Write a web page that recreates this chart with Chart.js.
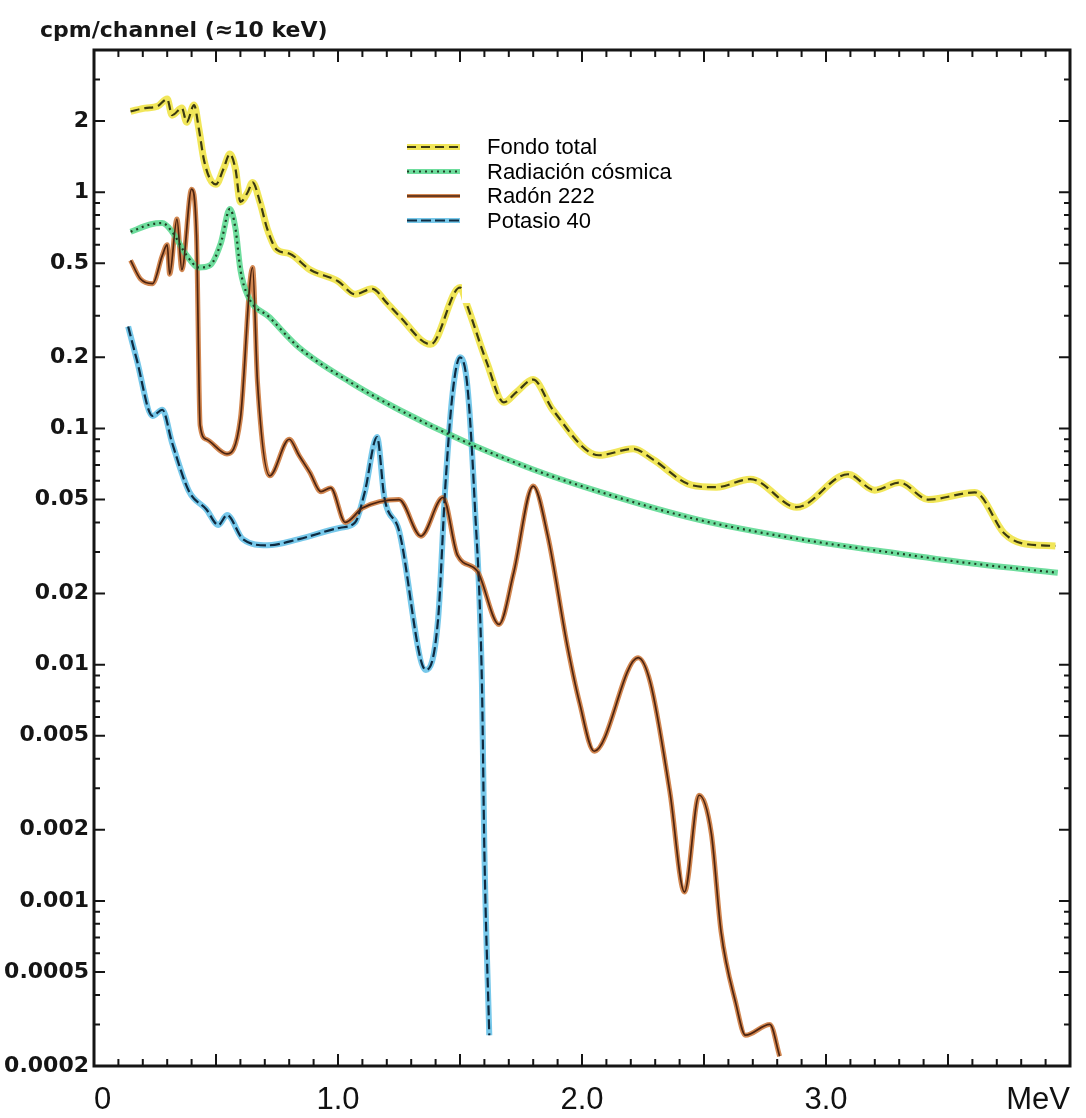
<!DOCTYPE html>
<html>
<head>
<meta charset="utf-8">
<script src="https://cdn.jsdelivr.net/npm/chart.js@4.4.1/dist/chart.umd.min.js"></script>
<style>
  html,body{margin:0;padding:0;background:#fff}
  #wrap{width:1086px;height:1118px;position:relative}
</style>
</head>
<body>
<div id="wrap"><canvas id="chart" width="1086" height="1118"></canvas></div>
<script>
const yTitle = 'cpm/channel (≈10 keV)';
const xTickValues = [0, 1, 2, 3, 4];
const xTickLabels = ['0', '1.0', '2.0', '3.0', 'MeV'];
const yTickValues = [2, 1, 0.5, 0.2, 0.1, 0.05, 0.02, 0.01, 0.005, 0.002, 0.001, 0.0005, 0.0002];
const yTickLabels = ['2', '1', '0.5', '0.2', '0.1', '0.05', '0.02', '0.01', '0.005', '0.002', '0.001', '0.0005', '0.0002'];
const seriesNames = ['Fondo total', 'Radiación cósmica', 'Radón 222', 'Potasio 40'];

// energies in MeV, values in cpm/channel
const fondoE = [0.15, 0.21, 0.26, 0.30, 0.32, 0.36, 0.38, 0.41, 0.43, 0.45, 0.475, 0.50, 0.53, 0.557, 0.58, 0.60, 0.63, 0.65, 0.68, 0.71, 0.75, 0.80, 0.885, 1.00, 1.07, 1.14, 1.20, 1.25, 1.38, 1.50, 1.53, 1.61, 1.68, 1.73, 1.80, 1.88, 2.07, 2.21, 2.29, 2.45, 2.55, 2.69, 2.88, 3.09, 3.20, 3.30, 3.42, 3.61, 3.73, 3.80, 3.94];
const fondoV = [2.2, 2.27, 2.31, 2.48, 2.12, 2.27, 1.98, 2.34, 1.85, 1.38, 1.14, 1.08, 1.25, 1.45, 1.25, 0.91, 1.0, 1.1, 0.91, 0.70, 0.57, 0.55, 0.47, 0.42, 0.37, 0.39, 0.34, 0.30, 0.227, 0.395, 0.33, 0.19, 0.129, 0.142, 0.161, 0.12, 0.077, 0.082, 0.074, 0.0575, 0.0564, 0.061, 0.0464, 0.064, 0.0548, 0.059, 0.05, 0.0536, 0.036, 0.0327, 0.0318];

const cosmicaE = [0.15, 0.23, 0.28, 0.32, 0.38, 0.43, 0.475, 0.52, 0.557, 0.58, 0.60, 0.63, 0.72, 0.84, 1.05, 1.25, 1.53, 1.80, 2.07, 2.48, 2.89, 3.30, 3.60, 3.95];
const cosmicaV = [0.68, 0.73, 0.74, 0.68, 0.54, 0.48, 0.49, 0.61, 0.85, 0.70, 0.47, 0.365, 0.295, 0.22, 0.157, 0.12, 0.087, 0.067, 0.054, 0.041, 0.034, 0.0295, 0.0268, 0.0245];

const radonE = [0.15, 0.19, 0.24, 0.28, 0.30, 0.31, 0.34, 0.36, 0.40, 0.42, 0.435, 0.46, 0.545, 0.60, 0.65, 0.67, 0.72, 0.80, 0.84, 0.885, 0.93, 0.97, 1.03, 1.10, 1.25, 1.34, 1.43, 1.49, 1.57, 1.66, 1.72, 1.80, 1.86, 1.94, 1.99, 2.05, 2.23, 2.28, 2.36, 2.42, 2.48, 2.53, 2.57, 2.63, 2.67, 2.77, 2.81];
const radonV = [0.515, 0.43, 0.41, 0.54, 0.60, 0.45, 0.77, 0.47, 1.03, 0.66, 0.103, 0.09, 0.078, 0.11, 0.48, 0.157, 0.063, 0.09, 0.077, 0.065, 0.054, 0.056, 0.040, 0.046, 0.05, 0.035, 0.051, 0.029, 0.025, 0.0148, 0.0245, 0.057, 0.035, 0.012, 0.0069, 0.0043, 0.0107, 0.0084, 0.0029, 0.00109, 0.0028, 0.00193, 0.00074, 0.00037, 0.00027, 0.0003, 0.00022];

const potasioE = [0.14, 0.175, 0.24, 0.28, 0.32, 0.39, 0.46, 0.51, 0.545, 0.61, 0.71, 0.84, 1.01, 1.07, 1.11, 1.16, 1.19, 1.25, 1.36, 1.41, 1.44, 1.47, 1.50, 1.53, 1.56, 1.59, 1.60, 1.62];
const potasioV = [0.27, 0.196, 0.113, 0.12, 0.087, 0.054, 0.0455, 0.039, 0.043, 0.034, 0.032, 0.034, 0.038, 0.040, 0.054, 0.092, 0.051, 0.037, 0.0095, 0.0155, 0.057, 0.142, 0.20, 0.152, 0.049, 0.0082, 0.0016, 0.00027];

const styles = [
  {glow: 'rgba(238,226,60,0.85)', glowW: 7, core: '#3b3a12', coreW: 2.2, dash: [9, 5]},
  {glow: 'rgba(85,215,140,0.85)', glowW: 6, core: '#1f3f25', coreW: 2.2, dash: [2, 4]},
  {glow: 'rgba(205,122,62,0.9)', glowW: 5, core: '#4d2410', coreW: 1.7, dash: []},
  {glow: 'rgba(95,190,230,0.85)', glowW: 6, core: '#0f2a40', coreW: 2.2, dash: [10, 4]}
];

function pts(xs, ys){ return xs.map((x, i) => ({x: x, y: ys[i]})); }
const seriesData = [pts(fondoE, fondoV), pts(cosmicaE, cosmicaV), pts(radonE, radonV), pts(potasioE, potasioV)];

const datasets = [];
seriesData.forEach((d, i) => {
  const s = styles[i];
  datasets.push({label: seriesNames[i], data: d, borderColor: s.core, borderWidth: s.coreW, borderDash: s.dash,
    pointRadius: 0, fill: false, cubicInterpolationMode: 'monotone', order: 1});
  datasets.push({label: seriesNames[i] + ' glow', data: d, borderColor: s.glow, borderWidth: s.glowW,
    pointRadius: 0, fill: false, cubicInterpolationMode: 'monotone', order: 2});
});

// frame with inward ticks, like the scanned plot
const frameTicks = {
  id: 'frameTicks',
  afterDatasetsDraw(chart){
    const {ctx, chartArea: a, scales: {x, y}} = chart;
    ctx.save();
    ctx.strokeStyle = '#151515';
    ctx.lineWidth = 2;
    for(let e = -4; e <= 0; e++){
      for(let m = 1; m <= 9; m++){
        const v = m * Math.pow(10, e);
        if(v < y.min || v > y.max) continue;
        const py = y.getPixelForValue(v);
        const len = (m === 1 || m === 2 || m === 5) ? 11 : 6;
        ctx.beginPath();
        ctx.moveTo(a.left, py); ctx.lineTo(a.left + len, py);
        ctx.moveTo(a.right, py); ctx.lineTo(a.right - len, py);
        ctx.stroke();
      }
    }
    for(let i = 0; i <= 40; i++){
      const px = x.getPixelForValue(i / 10);
      const len = i % 5 === 0 ? 12 : 7;
      ctx.beginPath();
      ctx.moveTo(px, a.bottom); ctx.lineTo(px, a.bottom - len);
      ctx.moveTo(px, a.top); ctx.lineTo(px, a.top + len);
      ctx.stroke();
    }
    ctx.lineWidth = 3;
    ctx.strokeRect(a.left, a.top, a.right - a.left, a.bottom - a.top);

    // axis title
    ctx.fillStyle = '#161616';
    ctx.font = 'bold 22px "DejaVu Sans"';
    ctx.textBaseline = 'alphabetic';
    ctx.textAlign = 'left';
    ctx.fillText(yTitle, 40, 37);

    // legend on white box
    ctx.fillStyle = '#fff';
    ctx.fillRect(462, 122, 278, 181);
    const ly0 = 147, step = 24.5;
    seriesNames.forEach((name, i) => {
      const s = styles[i];
      const ly = ly0 + i * step;
      ctx.setLineDash([]);
      ctx.strokeStyle = s.glow; ctx.lineWidth = s.glowW - 1;
      ctx.beginPath(); ctx.moveTo(407, ly); ctx.lineTo(460, ly); ctx.stroke();
      ctx.setLineDash(s.dash);
      ctx.strokeStyle = s.core; ctx.lineWidth = s.coreW - 0.4;
      ctx.beginPath(); ctx.moveTo(407, ly); ctx.lineTo(460, ly); ctx.stroke();
      ctx.setLineDash([]);
      ctx.fillStyle = '#000';
      ctx.font = '22px "Liberation Sans", Arial, sans-serif';
      ctx.textBaseline = 'middle';
      ctx.fillText(name, 487, ly + 1);
    });
    ctx.restore();
  }
};

new Chart(document.getElementById('chart'), {
  type: 'line',
  data: {datasets: datasets},
  options: {
    responsive: false,
    animation: false,
    devicePixelRatio: 1,
    layout: {padding: {top: 50, right: 16, left: 0, bottom: 0}},
    plugins: {legend: {display: false}, tooltip: {enabled: false}},
    scales: {
      x: {
        type: 'linear', min: 0, max: 4,
        afterBuildTicks: s => { s.ticks = xTickValues.map(v => ({value: v})); },
        afterFit: s => { s.height = 52; s.paddingLeft = 0; s.paddingRight = 0; },
        grid: {display: false},
        border: {display: false},
        ticks: {
          callback: (v, i) => xTickLabels[i],
          font: {family: '"Liberation Sans", Arial', size: 31},
          color: '#111', padding: 8, maxRotation: 0, autoSkip: false, align: 'inner'
        }
      },
      y: {
        type: 'logarithmic', min: 0.0002, max: 4,
        afterBuildTicks: s => { s.ticks = yTickValues.map(v => ({value: v})); },
        afterFit: s => { s.width = 94; s.paddingTop = 0; s.paddingBottom = 0; },
        grid: {display: false, drawTicks: false},
        border: {display: false},
        ticks: {
          callback: (v, i) => yTickLabels[i],
          font: {family: '"DejaVu Sans"', size: 22, weight: 'bold'},
          color: '#151515', padding: 5, autoSkip: false
        }
      }
    }
  },
  plugins: [frameTicks]
});
</script>
</body>
</html>
